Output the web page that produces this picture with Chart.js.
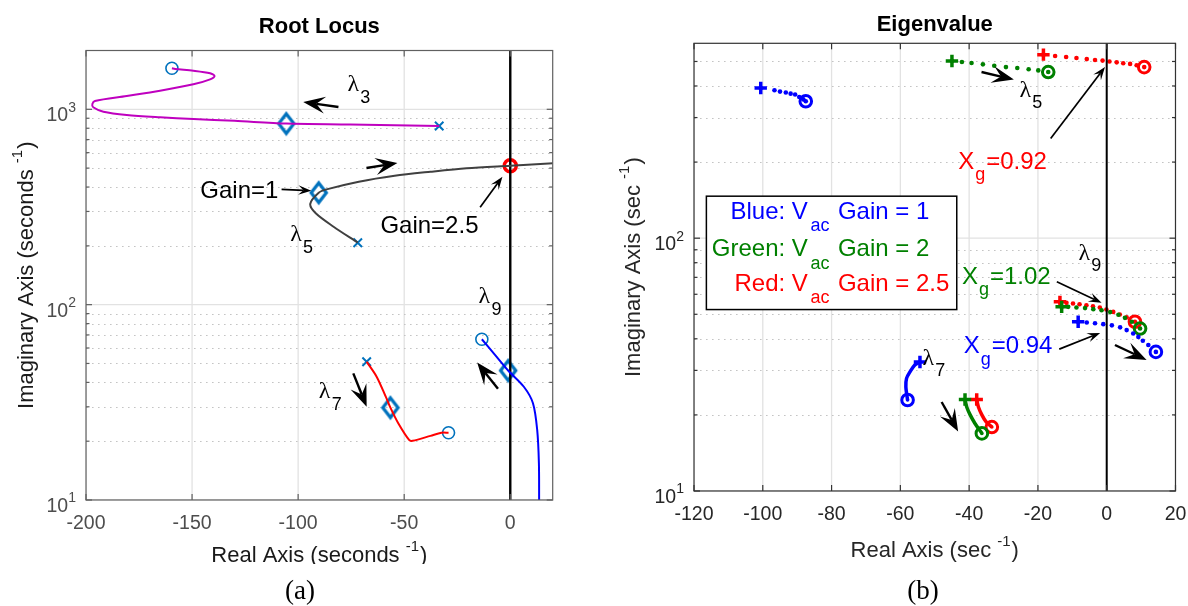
<!DOCTYPE html>
<html>
<head>
<meta charset="utf-8">
<title>Root Locus and Eigenvalue</title>
<script src="https://cdn.jsdelivr.net/npm/chart.js@4.4.1/dist/chart.umd.min.js"></script>
<style>
  html, body { margin: 0; padding: 0; background: #ffffff; }
  #fig { position: relative; width: 1188px; height: 606px; overflow: hidden; background: #ffffff; }
  #fig canvas { position: absolute; top: 0; width: 594px; height: 606px; }
</style>
</head>
<body>
<div id="fig">
  <canvas id="locus" width="594" height="606" style="left:0"></canvas>
  <canvas id="eigen" width="594" height="606" style="left:594px"></canvas>
</div>
<script>
// ---------- (a) Root locus: real part / imaginary part of each branch (1/s) ----------
const locusTicksRe = [-200, -150, -100, -50, 0];
const locusDecades = [10, 100, 1000];

const lambda3Re = [-33.5, -75.4, -105.6, -130.0, -149.4, -165.1, -180.8, -191.8, -196.6, -197.0, -195.8, -180.8, -165.1, -149.4, -141.5, -139.4, -141.5, -149.4, -158.0, -159.5];
const lambda3Im = [821, 836, 845, 873, 892, 910, 935, 972, 1024, 1064, 1103, 1169, 1245, 1343, 1424, 1481, 1529, 1576, 1608, 1622];

const lambda5Re = [-71.9, -83.3, -91.7, -94.3, -90.3, -86.6, -71.4, -54.5, -37.6, -20.6, 0.0, 20.4];
const lambda5Im = [207.6, 250.6, 293.6, 327.5, 374, 389, 426, 457, 479, 499, 514, 529];

const lambda7Re = [-67.7, -63.0, -58.7, -56.5, -52.8, -47.7, -46.0, -37.6, -32.5, -29.1];
const lambda7Im = [51.0, 42.8, 33.8, 29.7, 24.7, 20.3, 20.1, 21.3, 22.1, 22.1];

const lambda9Re = [-13.4, -7.1, -1.0, 6.4, 10.7, 12.7, 13.5, 13.6];
const lambda9Im = [66.5, 55.2, 46.0, 38.0, 31.3, 22.8, 15.4, 10.0];

const poleRe = [-33.5, -71.9, -67.7];
const poleIm = [821, 207.6, 51.0];
const zeroRe = [-159.5, -29.1, -13.4];
const zeroIm = [1622, 22.1, 66.5];
const unityGainRe = [-105.6, -90.3, -56.5, -1.0];
const unityGainIm = [845, 374, 29.7, 46.0];
const criticalGainRe = [0];
const criticalGainIm = [514];
const locusImagAxisRe = [0, 0];
const locusImagAxisIm = [10, 2000];

// ---------- (b) Eigenvalue traces for the three gains ----------
const eigenTicksRe = [-120, -100, -80, -60, -40, -20, 0, 20];
const eigenDecades = [10, 100];

const blue5Re = [-100.6, -96.6, -95.0, -93.3, -91.9, -90.6, -89.4, -88.2, -87.5];
const blue5Im = [392.7, 384.6, 380, 377, 373, 370, 361.9, 354, 348];
const green5Re = [-45.0, -42.1, -39.3, -36.0, -32.7, -29.3, -26.0, -22.7, -19.9, -17.0];
const green5Im = [502, 497.6, 493, 487, 481, 475, 471, 466, 461, 454];
const red5Re = [-18.4, -15.0, -11.8, -8.8, -5.8, -3.4, -1.2, 0.8, 2.9, 4.8, 6.8, 8.7, 10.9];
const red5Im = [532, 525.6, 521, 516, 511, 507, 504, 500, 496, 492, 489, 483, 475];

const red9Re = [-13.6, -11.7, -9.8, -7.9, -5.9, -4.0, -2.0, -0.1, 1.9, 3.8, 5.8, 8.2];
const red9Im = [56.0, 55.5, 55.2, 54.8, 54.3, 53.8, 53.2, 52.2, 51.1, 49.9, 48.6, 46.7];
const green9Re = [-13.1, -11.2, -8.8, -6.3, -3.9, -1.5, 1.0, 3.4, 5.3, 7.3, 9.7];
const green9Im = [53.5, 53.5, 53.2, 52.9, 52.4, 51.9, 51.0, 49.8, 48.4, 46.7, 43.9];
const blue9Re = [-8.3, -5.8, -3.4, -1.0, 1.5, 3.9, 5.8, 7.7, 9.2, 10.5, 12.1, 14.3];
const blue9Im = [46.7, 46.4, 46.1, 45.7, 45.2, 44.4, 43.3, 42.0, 40.7, 39.3, 37.8, 35.5];

const blue7Re = [-54.3, -55.8, -57.2, -58.2, -58.4, -57.9];
const blue7Im = [32.4, 31.5, 29.6, 27.9, 25.8, 22.9];
const green7Re = [-41.2, -40.7, -39.7, -38.3, -36.3];
const green7Im = [23.0, 21.5, 20.0, 18.5, 16.9];
const red7Re = [-37.8, -37.3, -36.3, -35.1, -33.4];
const red7Im = [23.0, 21.5, 20.0, 18.8, 17.9];

const eigenImagAxisRe = [0, 0];
const eigenImagAxisIm = [10, 590];

// ---------- drawing helpers ----------
const SANS = '"Liberation Sans", Arial, Helvetica, sans-serif';
const SERIF = '"Liberation Serif", "DejaVu Serif", serif';
const font = (px, weight) => (weight ? weight + ' ' : '') + px + 'px ' + SANS;
const MATLAB_BLUE = '#0072BD';
const BLUE = '#0000ff', GREEN = '#008000', RED = '#ff0000';

const pts = (re, im) => re.map((v, i) => ({ x: v, y: im[i] }));

function seg(ctx, x1, y1, x2, y2) {
  ctx.beginPath(); ctx.moveTo(x1, y1); ctx.lineTo(x2, y2); ctx.stroke();
}

function arrow(ctx, x1, y1, x2, y2, big, color) {
  const L = big ? 22 : 13, W = big ? 17 : 9.5, lw = big ? 2.4 : 1.7;
  const a = Math.atan2(y2 - y1, x2 - x1);
  ctx.save();
  ctx.strokeStyle = color; ctx.fillStyle = color; ctx.lineWidth = lw;
  seg(ctx, x1, y1, x2 - Math.cos(a) * L * 0.6, y2 - Math.sin(a) * L * 0.6);
  ctx.translate(x2, y2); ctx.rotate(a);
  ctx.beginPath();
  ctx.moveTo(0, 0); ctx.lineTo(-L, -W / 2); ctx.lineTo(-L * 0.6, 0); ctx.lineTo(-L, W / 2);
  ctx.closePath(); ctx.fill();
  ctx.restore();
}

// Draws a run of text pieces (for sub/superscripts) starting, centred or ending at x.
function rich(ctx, parts, x, y, align) {
  let w = 0;
  parts.forEach(p => { ctx.font = p.font; p.w = ctx.measureText(p.t).width; w += p.w + (p.gap || 0); });
  let cx = align === 'center' ? x - w / 2 : align === 'right' ? x - w : x;
  ctx.textAlign = 'left'; ctx.textBaseline = 'middle';
  parts.forEach(p => {
    ctx.font = p.font; ctx.fillStyle = p.color;
    cx += (p.gap || 0);
    ctx.fillText(p.t, cx, y + (p.dy || 0));
    cx += p.w;
  });
}

function diamondSprite(color) {
  const c = document.createElement('canvas');
  c.width = 22; c.height = 26;
  const g = c.getContext('2d');
  g.strokeStyle = color; g.lineWidth = 3.2; g.lineJoin = 'miter';
  g.beginPath(); g.moveTo(11, 3.2); g.lineTo(18.6, 13); g.lineTo(11, 22.8); g.lineTo(3.4, 13); g.closePath(); g.stroke();
  return c;
}

function minorValues(decades, max) {
  const out = [];
  decades.forEach(d => { for (let k = 2; k <= 9; k++) if (k * d < max) out.push(k * d); });
  return out;
}

// Axes decoration: grid, frame, tick marks, labels, titles, annotations
function panelPlugin(P) {
  return {
    id: 'panel_' + P.key,
    beforeDatasetsDraw(chart) {
      const { ctx, chartArea: a, scales: { x, y } } = chart;
      ctx.save();
      ctx.beginPath(); ctx.rect(a.left, a.top, a.right - a.left, a.bottom - a.top); ctx.clip();
      ctx.lineWidth = 1.3; ctx.strokeStyle = P.gridMajor;
      P.ticksRe.forEach(v => { const px = x.getPixelForValue(v); seg(ctx, px, a.top, px, a.bottom); });
      P.decades.forEach(d => { const py = y.getPixelForValue(d); seg(ctx, a.left, py, a.right, py); });
      ctx.strokeStyle = P.gridMinor; ctx.lineWidth = 1; ctx.setLineDash([1.6, 4.4]);
      minorValues(P.decades, P.maxIm).forEach(v => {
        const py = Math.round(y.getPixelForValue(v)) + 0.5;
        seg(ctx, a.left, py, a.right, py);
      });
      ctx.restore();
    },
    afterDatasetsDraw(chart) {
      const { ctx, chartArea: a, scales: { x, y } } = chart;
      const X = v => x.getPixelForValue(v), Y = v => y.getPixelForValue(v);
      const o = P.offset;
      ctx.save();

      // legend text box (drawn before frame so the frame stays on top)
      if (P.legend) {
        const L = P.legend;
        const bx = X(L.re[0]), by = Y(L.im[1]), bw = X(L.re[1]) - bx, bh = Y(L.im[0]) - by;
        ctx.fillStyle = '#ffffff'; ctx.fillRect(bx, by, bw, bh);
        ctx.strokeStyle = '#000000'; ctx.lineWidth = 1.5; ctx.strokeRect(bx, by, bw, bh);
        L.rows.forEach(r => {
          rich(ctx, [{ t: r.name, font: font(24), color: r.color }], bx + 101.5, by + r.dy, 'right');
          rich(ctx, [{ t: 'ac', font: font(18), color: r.color }], bx + 104, by + r.dy + 14, 'left');
          rich(ctx, [{ t: r.gain, font: font(24), color: r.color }], bx + 131.5, by + r.dy, 'left');
        });
      }

      // frame and inward tick marks
      ctx.strokeStyle = P.frame; ctx.lineWidth = 1.2;
      ctx.strokeRect(a.left, a.top, a.right - a.left, a.bottom - a.top);
      P.ticksRe.forEach(v => { const px = X(v); seg(ctx, px, a.bottom, px, a.bottom - 6); seg(ctx, px, a.top, px, a.top + 6); });
      P.decades.forEach(d => { const py = Y(d); seg(ctx, a.left, py, a.left + 6, py); seg(ctx, a.right, py, a.right - 6, py); });
      minorValues(P.decades, P.maxIm).forEach(v => { const py = Y(v); seg(ctx, a.left, py, a.left + 3.5, py); seg(ctx, a.right, py, a.right - 3.5, py); });

      // decade tick labels 10^n
      P.decades.forEach(d => {
        const py = Y(d), n = String(Math.round(Math.log10(d)));
        ctx.font = font(14); const sw = ctx.measureText(n).width;
        rich(ctx, [{ t: '10', font: font(19.5), color: P.tickColor }], a.left - 10 - sw, py + 6.5, 'right');
        rich(ctx, [{ t: n, font: font(14), color: P.tickColor }], a.left - 10, py - 1.5, 'right');
      });

      // title
      const cxA = (a.left + a.right) / 2;
      ctx.textAlign = 'center'; ctx.textBaseline = 'middle';
      ctx.font = font(22, 'bold'); ctx.fillStyle = '#000000';
      ctx.fillText(P.title, cxA, P.titleY);

      // axis titles
      const axisParts = (main, color) => [
        { t: main, font: font(22), color },
        { t: '-1', font: font(15), color, dy: -9 },
        { t: ')', font: font(22), color, gap: 1 }
      ];
      ctx.save();
      if (P.xTitleClip) { ctx.beginPath(); ctx.rect(0, 0, chart.width, P.xTitleClip); ctx.clip(); }
      rich(ctx, axisParts(P.xTitle, P.titleColor), cxA, P.xTitleY, 'center');
      ctx.restore();
      ctx.save();
      ctx.translate(P.yTitleX - o, (a.top + a.bottom) / 2);
      ctx.rotate(-Math.PI / 2);
      rich(ctx, axisParts(P.yTitle, P.titleColor), 0, 0, 'center');
      ctx.restore();

      // caption
      ctx.font = '27px ' + SERIF; ctx.fillStyle = '#000000';
      ctx.textAlign = 'center'; ctx.textBaseline = 'middle';
      ctx.fillText(P.caption, P.captionX - o, P.captionY);

      // annotations
      P.arrows.forEach(r => arrow(ctx, X(r.from[0]), Y(r.from[1]), X(r.to[0]), Y(r.to[1]), r.big, r.color || '#000000'));
      P.lambdas.forEach(l => {
        const px = X(l.at[0]), py = Y(l.at[1]);
        rich(ctx, [{ t: '\u03bb', font: '24px ' + SERIF, color: '#000000' }], px, py, 'center');
        rich(ctx, [{ t: l.n, font: font(18), color: '#000000' }], px + 12, py + 13, 'center');
      });
      P.notes.forEach(n => {
        const px = X(n.at[0]), py = Y(n.at[1]);
        if (n.sub) {
          rich(ctx, [
            { t: n.t, font: font(24), color: n.color },
            { t: n.sub, font: font(18), color: n.color, dy: 13, gap: 1 },
            { t: n.rest, font: font(24), color: n.color, gap: 1 }
          ], px, py, 'left');
        } else {
          rich(ctx, [{ t: n.t, font: font(24), color: n.color }], px, py, 'center');
        }
      });
      ctx.restore();
    }
  };
}

function makeOptions(minRe, maxRe, ticksRe, maxIm, pad, yWidth, xHeight, tickColor) {
  return {
    responsive: false, animation: false, devicePixelRatio: 1, events: [],
    layout: { padding: pad },
    plugins: { legend: { display: false }, tooltip: { enabled: false }, title: { display: false } },
    scales: {
      x: {
        type: 'linear', min: minRe, max: maxRe,
        afterBuildTicks: s => { s.ticks = ticksRe.map(v => ({ value: v })); },
        afterFit: s => { s.height = xHeight; s.paddingLeft = 0; s.paddingRight = 0; },
        grid: { display: false, drawTicks: false }, border: { display: false },
        ticks: { color: tickColor, padding: 11.5, maxRotation: 0, autoSkip: false,
                 font: { family: SANS, size: 19.5 }, callback: v => String(v) }
      },
      y: {
        type: 'logarithmic', min: 10, max: maxIm,
        afterFit: s => { s.width = yWidth; s.paddingTop = 0; s.paddingBottom = 0; },
        grid: { display: false, drawTicks: false }, border: { display: false },
        ticks: { display: false }
      }
    }
  };
}

// ---------- (a) Root locus ----------
const lineSet = (re, im, color, width) => ({
  data: pts(re, im), showLine: true, borderColor: color, borderWidth: width,
  pointRadius: 0, tension: 0.3, fill: false
});

const locusPanel = {
  key: 'a', offset: 0, ticksRe: locusTicksRe, decades: locusDecades, maxIm: 2000,
  gridMajor: '#e2e2e2', gridMinor: '#c4c4c4', frame: '#606060', tickColor: '#4d4d4d', titleColor: '#1a1a1a',
  title: 'Root Locus', titleY: 27,
  xTitle: 'Real Axis (seconds ', xTitleY: 556, xTitleClip: 564,
  yTitle: 'Imaginary Axis (seconds ', yTitleX: 27,
  caption: '(a)', captionX: 300, captionY: 592,
  arrows: [
    { from: [-81.0, 1027], to: [-97.6, 1090], big: true },
    { from: [-67.8, 500.6], to: [-53.2, 531], big: true },
    { from: [-5.8, 37.1], to: [-15.6, 50.5], big: true },
    { from: [-74.0, 44.5], to: [-67.7, 30.0], big: true },
    { from: [-107.8, 389.5], to: [-93.8, 383], big: false },
    { from: [-14.2, 315], to: [-3.7, 451.9], big: false }
  ],
  lambdas: [
    { n: '3', at: [-74.0, 1332] }, { n: '5', at: [-101.0, 227.3] },
    { n: '9', at: [-12.2, 109.8] }, { n: '7', at: [-87.5, 35.8] }
  ],
  notes: [
    { t: 'Gain=1', at: [-127.7, 378.6], color: '#000000' },
    { t: 'Gain=2.5', at: [-38.1, 252.7], color: '#000000' }
  ]
};

new Chart(document.getElementById('locus'), {
  type: 'scatter',
  data: {
    datasets: [
      lineSet(lambda3Re, lambda3Im, '#bf00bf', 2),
      lineSet(lambda5Re, lambda5Im, '#404040', 2),
      lineSet(lambda7Re, lambda7Im, RED, 2),
      lineSet(lambda9Re, lambda9Im, BLUE, 2),
      { data: pts(locusImagAxisRe, locusImagAxisIm), showLine: true, borderColor: '#000000', borderWidth: 2.4, pointRadius: 0 },
      { data: pts(poleRe, poleIm), pointStyle: 'crossRot', pointRadius: 6, borderColor: MATLAB_BLUE, borderWidth: 2 },
      { data: pts(zeroRe, zeroIm), pointStyle: 'circle', pointRadius: 6, borderColor: MATLAB_BLUE, borderWidth: 1.6, backgroundColor: 'rgba(0,0,0,0)' },
      { data: pts(unityGainRe, unityGainIm), pointStyle: diamondSprite(MATLAB_BLUE), pointRadius: 9 },
      { data: pts(criticalGainRe, criticalGainIm), pointStyle: 'circle', pointRadius: 6, borderColor: RED, borderWidth: 3.5, backgroundColor: 'rgba(0,0,0,0)' }
    ]
  },
  options: makeOptions(-200, 20, locusTicksRe, 2000, { left: 0, right: 41.3, top: 50.5, bottom: 0 }, 86, 106, '#4d4d4d'),
  plugins: [panelPlugin(locusPanel)]
});

// ---------- (b) Eigenvalue traces ----------
function traceSets(re, im, color, solid) {
  const p = pts(re, im);
  const sets = [];
  if (solid) {
    sets.push({ data: p, showLine: true, borderColor: color, borderWidth: 3.5, pointRadius: 0, tension: 0.3 });
    sets.push({ data: [p[p.length - 1]], pointStyle: 'circle', pointRadius: 1.8, backgroundColor: color, borderWidth: 0 });
  } else {
    sets.push({ data: p, pointStyle: 'circle', pointRadius: 2.3, backgroundColor: color, borderWidth: 0 });
  }
  sets.push({ data: [p[0]], pointStyle: 'cross', pointRadius: 6.2, borderColor: color, borderWidth: 3.5 });
  sets.push({ data: [p[p.length - 1]], pointStyle: 'circle', pointRadius: 5.8, borderColor: color, borderWidth: 3, backgroundColor: 'rgba(0,0,0,0)' });
  return sets;
}

const eigenPanel = {
  key: 'b', offset: 594, ticksRe: eigenTicksRe, decades: eigenDecades, maxIm: 590,
  gridMajor: '#e2e2e2', gridMinor: '#c4c4c4', frame: '#333333', tickColor: '#262626', titleColor: '#262626',
  title: 'Eigenvalue', titleY: 25,
  xTitle: 'Real Axis (sec ', xTitleY: 551,
  yTitle: 'Imaginary Axis (sec ', yTitleX: 634,
  caption: '(b)', captionX: 923, captionY: 592,
  legend: {
    re: [-116.4, -43.6], im: [52.2, 146.6],
    rows: [
      { name: 'Blue: V', gain: 'Gain = 1', color: BLUE, dy: 16 },
      { name: 'Green: V', gain: 'Gain = 2', color: GREEN, dy: 53.5 },
      { name: 'Red: V', gain: 'Gain = 2.5', color: RED, dy: 88 }
    ]
  },
  arrows: [
    { from: [-36.4, 454.4], to: [-27.0, 424], big: true },
    { from: [2.4, 37.8], to: [11.6, 33.0], big: true },
    { from: [-48.0, 22.5], to: [-43.2, 17.2], big: true },
    { from: [-16.3, 247.7], to: [-0.5, 475], big: false },
    { from: [-14.5, 67.2], to: [-1.5, 55.5], big: false },
    { from: [-13.8, 36.4], to: [-1.9, 42.2], big: false }
  ],
  lambdas: [
    { n: '5', at: [-23.7, 384.6] }, { n: '9', at: [-6.5, 87.0] }, { n: '7', at: [-51.9, 33.5] }
  ],
  notes: [
    { t: 'X', sub: 'g', rest: '=0.92', at: [-43.2, 200.3], color: RED },
    { t: 'X', sub: 'g', rest: '=1.02', at: [-42.1, 70.3], color: GREEN },
    { t: 'X', sub: 'g', rest: '=0.94', at: [-41.6, 37.2], color: BLUE }
  ]
};

new Chart(document.getElementById('eigen'), {
  type: 'scatter',
  data: {
    datasets: [
      { data: pts(eigenImagAxisRe, eigenImagAxisIm), showLine: true, borderColor: '#000000', borderWidth: 2, pointRadius: 0 },
      ...traceSets(blue5Re, blue5Im, BLUE, false),
      ...traceSets(green5Re, green5Im, GREEN, false),
      ...traceSets(red5Re, red5Im, RED, false),
      ...traceSets(blue9Re, blue9Im, BLUE, false),
      ...traceSets(green9Re, green9Im, GREEN, false),
      ...traceSets(red9Re, red9Im, RED, false),
      ...traceSets(blue7Re, blue7Im, BLUE, true),
      ...traceSets(green7Re, green7Im, GREEN, true),
      ...traceSets(red7Re, red7Im, RED, true)
    ]
  },
  options: makeOptions(-120, 20, eigenTicksRe, 590, { left: 0, right: 12.5, top: 43.3, bottom: 0 }, 100, 115, '#262626'),
  plugins: [panelPlugin(eigenPanel)]
});
</script>
</body>
</html>
